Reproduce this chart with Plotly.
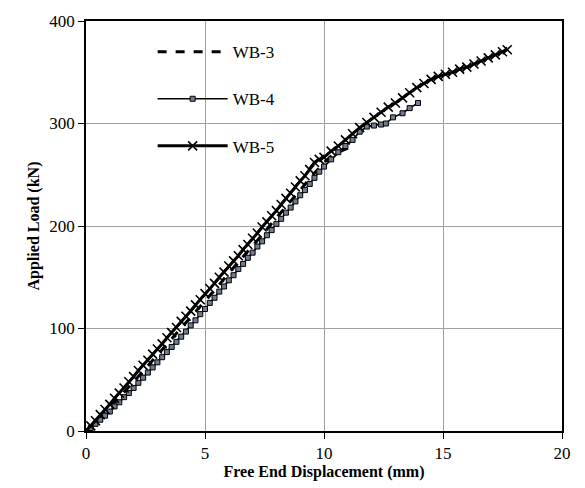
import plotly.graph_objects as go

# WB-3 (dashed)
wb3_x = [0, 0.5, 1.0, 1.5, 2.0, 2.5, 3.0, 3.5, 4.0, 4.5, 5.0, 5.5, 6.0, 6.5, 7.0, 7.5, 8.0, 8.5, 9.0, 9.5, 10.0, 10.3, 10.6, 11.0, 11.3]
wb3_y = [0, 11, 23, 35, 48, 61, 74, 87, 100, 113, 127, 140, 154, 167, 181, 194, 208, 221, 235, 249, 262, 268, 272, 276, 280]

# WB-4 (thin line, small squares)
wb4_x = [0, 0.2, 0.4, 0.6, 0.8, 1.0, 1.2, 1.4, 1.6, 1.8, 2.0, 2.2, 2.4, 2.6, 2.8, 3.0, 3.2, 3.4, 3.6, 3.8,
         4.0, 4.2, 4.4, 4.6, 4.8, 5.0, 5.2, 5.4, 5.6, 5.8, 6.0, 6.2, 6.4, 6.6, 6.8, 7.0, 7.2, 7.4, 7.6, 7.8,
         8.0, 8.2, 8.4, 8.6, 8.8, 9.0, 9.2, 9.4, 9.6, 9.8, 10.0, 10.3, 10.6, 10.9, 11.2, 11.5, 11.8, 12.1,
         12.4, 12.6, 12.9, 13.3, 13.6, 13.95]
wb4_y = [0, 3, 7, 11, 15, 19, 24, 28, 33, 37, 42, 47, 52, 57, 62, 67, 72, 77, 82, 87,
         92, 97, 103, 108, 114, 119, 125, 130, 136, 141, 147, 152, 158, 163, 169, 174, 180, 185, 191, 196,
         202, 207, 213, 218, 224, 230, 235, 241, 247, 253, 258, 265, 272, 278, 284, 292, 297, 298,
         299, 300, 306, 310, 315, 320]

# WB-5 (thick line, x markers)
wb5_x = [0, 0.2, 0.4, 0.6, 0.8, 1.0, 1.2, 1.4, 1.6, 1.8, 2.0, 2.2, 2.4, 2.6, 2.8, 3.0, 3.2, 3.4, 3.6, 3.8,
         4.0, 4.2, 4.4, 4.6, 4.8, 5.0, 5.2, 5.4, 5.6, 5.8, 6.0, 6.2, 6.4, 6.6, 6.8, 7.0, 7.2, 7.4, 7.6, 7.8,
         8.0, 8.2, 8.4, 8.6, 8.8, 9.0, 9.2, 9.4, 9.6, 9.8, 10.0, 10.3, 10.6, 10.9, 11.2, 11.5, 11.8, 12.1,
         12.4, 12.7, 13.0, 13.3, 13.6, 13.9, 14.2, 14.5, 14.8, 15.1, 15.4, 15.7, 16.0, 16.3, 16.6, 16.9,
         17.2, 17.5, 17.7]
wb5_y = [0, 5, 10, 16, 21, 26, 32, 37, 42, 48, 53, 59, 64, 69, 75, 80, 85, 91, 96, 101,
         107, 112, 117, 123, 128, 134, 139, 144, 150, 155, 161, 166, 171, 177, 182, 188, 193, 199, 204, 210,
         215, 221, 227, 232, 238, 244, 249, 255, 262, 265, 267, 273, 278, 284, 290, 296, 301, 306,
         311, 316, 320, 325, 330, 335, 339, 343, 346, 348, 350, 353, 355, 358, 361, 364,
         367, 370, 372]

x_ticks = [0, 5, 10, 15, 20]
y_ticks = [0, 100, 200, 300, 400]

FONT = "Liberation Serif"

fig = go.Figure()
fig.add_trace(go.Scatter(x=wb3_x, y=wb3_y, mode="lines", name="WB-3", legendgroup="a",
                         line=dict(color="black", width=3, dash="dash")))
fig.add_trace(go.Scatter(x=wb4_x, y=wb4_y, mode="lines+markers", name="WB-4", legendgroup="b",
                         line=dict(color="black", width=1.6),
                         marker=dict(symbol="square", size=5, color="#6f7d90",
                                     line=dict(color="black", width=1))))
fig.add_trace(go.Scatter(x=wb5_x, y=wb5_y, mode="lines+markers", name="WB-5", legendgroup="c",
                         line=dict(color="black", width=3),
                         marker=dict(symbol="x-thin", size=9, color="black",
                                     line=dict(color="black", width=1.6))))

axis_common = dict(showline=True, linecolor="black", linewidth=1.5, mirror=True,
                   showgrid=True, gridcolor="#a0a0a0", gridwidth=1.2, zeroline=False,
                   ticks="outside", ticklen=6, tickcolor="black",
                   tickfont=dict(family=FONT, size=17, color="black"))

fig.update_xaxes(range=[0, 20], tickvals=x_ticks, ticktext=[str(v) for v in x_ticks],
                 title=dict(text="<b>Free End Displacement (mm)</b>", font=dict(family=FONT, size=16, color="black"),
                            standoff=2),
                 **axis_common)
fig.update_yaxes(range=[0, 400], tickvals=y_ticks, ticktext=[str(v) for v in y_ticks],
                 title=dict(text="<b>Applied Load (kN)</b>", font=dict(family=FONT, size=16, color="black"),
                            standoff=6),
                 **axis_common)

fig.update_layout(
    width=585, height=488,
    margin=dict(l=86, r=23, t=12, b=57),
    paper_bgcolor="white", plot_bgcolor="white",
    showlegend=True,
    legend=dict(x=0.14, y=0.968, xanchor="left", yanchor="top",
                font=dict(family=FONT, size=17, color="black"),
                bgcolor="rgba(255,255,255,0)", tracegroupgap=22, itemwidth=70),
)

fig.write_html("out.html")
